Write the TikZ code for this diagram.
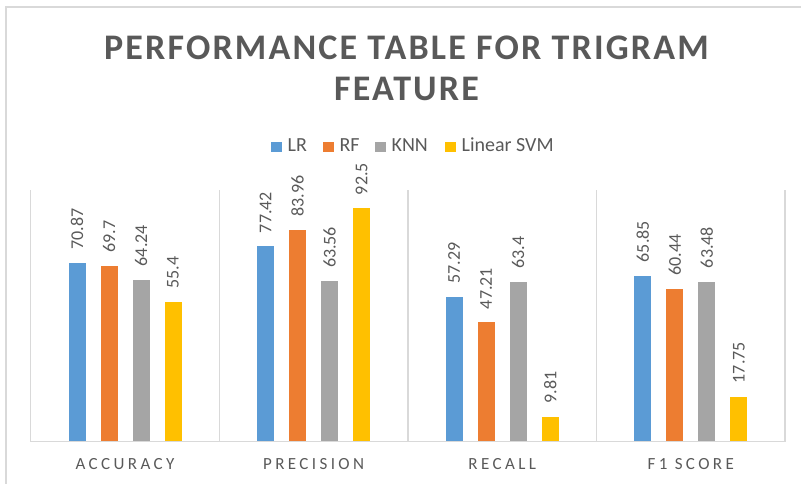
\documentclass[tikz,border=0pt]{standalone}
\usepackage{fontspec}
\setmainfont{Carlito}
\newfontfamily\titlefont{Carlito}[LetterSpace=6]
\newfontfamily\catfont{Carlito}[LetterSpace=20]
\usepackage{tikz}
\usetikzlibrary{positioning}
\definecolor{lrblue}{HTML}{5B9BD5}
\definecolor{rforange}{HTML}{ED7D31}
\definecolor{knngray}{HTML}{A5A5A5}
\definecolor{svmyellow}{HTML}{FFC000}
\definecolor{textgray}{HTML}{595959}
\definecolor{linegray}{HTML}{D9D9D9}
\tikzset{
	bar/.style={anchor=south,inner sep=0pt,minimum width=17pt},
	vallabel/.style={rotate=90,anchor=west,inner sep=0pt,text=textgray,font=\fontsize{18}{18}\selectfont},
	catlabel/.style={anchor=base,inner sep=0pt,text=textgray,font=\catfont\fontsize{17}{17}\selectfont},
	legbox/.style={anchor=south west,inner sep=0pt,minimum width=11pt,minimum height=10pt},
	legtext/.style={inner sep=0pt,text=textgray,font=\fontsize{20}{20}\selectfont},
	gridline/.style={draw=linegray,line width=1.5pt}
}

\begin{document}
\begin{tikzpicture}[x=1pt,y=-1pt]
		\useasboundingbox (0,0) rectangle (801,484);
		\draw [draw=linegray,line width=2pt] (5.7,490) |- (810,6.7);
		\node(title1) [anchor=base,inner sep=0pt,text=textgray,font=\titlefont\bfseries\fontsize{36}{36}\selectfont] at (406.5,59.3) {PERFORMANCE TABLE FOR TRIGRAM};
		\node(title2) [anchor=base,inner sep=0pt,text=textgray,font=\titlefont\bfseries\fontsize{36}{36}\selectfont] at (406.5,101) {FEATURE};
		\node(lrbox) [legbox,fill=lrblue] at (271,152) {};
		\node(lrtext) [legtext,right=5pt of lrbox.south east,anchor=base west] {LR};
		\node(rfbox) [legbox,fill=rforange] at (323,152) {};
		\node(rftext) [legtext,right=5pt of rfbox.south east,anchor=base west] {RF};
		\node(knnbox) [legbox,fill=knngray] at (375,152) {};
		\node(knntext) [legtext,right=5pt of knnbox.south east,anchor=base west] {KNN};
		\node(svmbox) [legbox,fill=svmyellow] at (445,152) {};
		\node(svmtext) [legtext,right=5pt of svmbox.south east,anchor=base west] {Linear SVM};
		\draw [gridline] (30.7,441.5) -- (785.1,441.5);
		\foreach \gx in {30.7,219.3,407.9,596.5,785.1}
			\draw [gridline] (\gx,190.5) -- (\gx,441.5);
		\foreach \cat/\cx/\catname/\va/\vb/\vc/\vd in {1/125/ACCURACY/70.87/69.7/64.24/55.4,2/313.6/PRECISION/77.42/83.96/63.56/92.5,3/502.2/RECALL/57.29/47.21/63.4/9.81,4/690.8/F1 SCORE/65.85/60.44/63.48/17.75}{
			\node(c\cat) [catlabel] at (\cx,469.5) {\catname};
			\foreach \i/\v/\col in {0/\va/lrblue,1/\vb/rforange,2/\vc/knngray,3/\vd/svmyellow}{
				\pgfmathsetmacro\bx{\cx+(\i-1.5)*32}
				\pgfmathsetmacro\bh{\v*2.517}
				\node(b\cat\i) [bar,fill=\col,minimum height=\bh pt] at (\bx,441.5) {};
				\node(v\cat\i) [vallabel] at ([yshift=13pt]b\cat\i.north) {\v};
			}
		}
	\end{tikzpicture}
\end{document}
